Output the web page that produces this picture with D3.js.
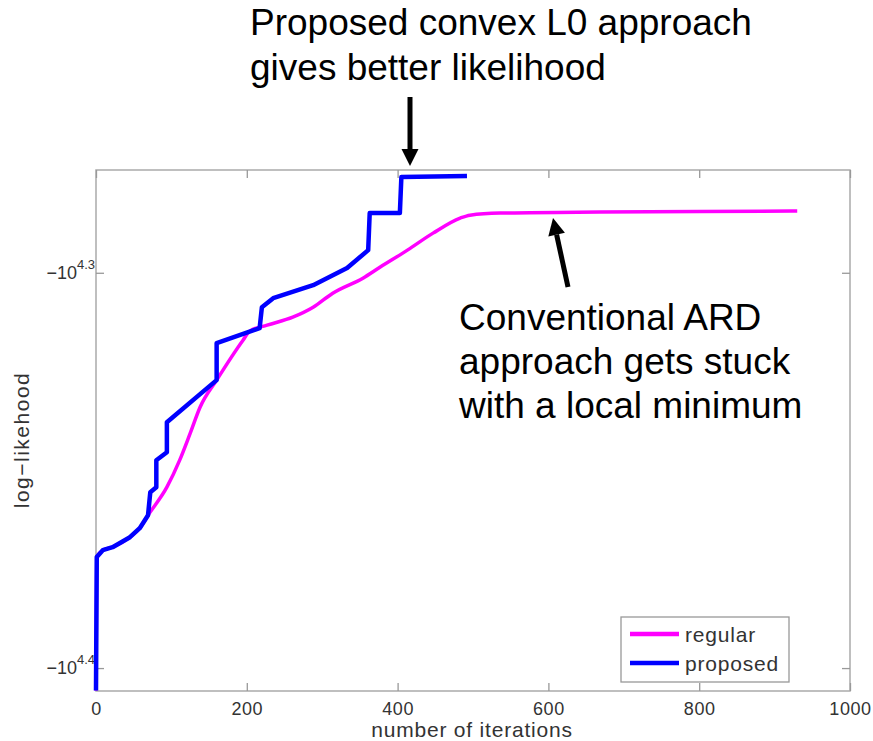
<!DOCTYPE html>
<html lang="en">
<head>
    <meta charset="UTF-8">
    <title>log-likehood vs number of iterations</title>
    <script src="https://cdnjs.cloudflare.com/ajax/libs/d3/7.8.5/d3.min.js"></script>
    <style>
        body {
            margin: 0;
            background-color: #ffffff;
            font-family: "Liberation Sans", Arial, sans-serif;
        }
        .tick text {
            fill: #333;
        }
    </style>
</head>
<body>
    <div id="chart"></div>

    <script>
        // values
        const regularIter = [0, 1, 9, 22, 45, 58, 69, 94, 111, 125, 138, 160, 195, 204, 227, 261, 288, 314, 354, 377, 413, 447, 483, 496, 536, 668, 801, 930];
        const regularLL = [-25450, -23546, -23452, -23411, -23275, -23153, -22979, -22607, -22254, -21907, -21579, -21240, -20752, -20643, -20571, -20475, -20357, -20191, -20015, -19886, -19691, -19497, -19327, -19294, -19271, -19259, -19253, -19248];

        const proposedIter = [0, 1, 9, 22, 45, 58, 69, 72, 80, 80, 94, 94, 160, 160, 217, 220, 235, 288, 333, 361, 363, 403, 405, 492];
        const proposedLL = [-25450, -23546, -23452, -23411, -23275, -23153, -22979, -22673, -22607, -22254, -22151, -21767, -21240, -20788, -20607, -20357, -20250, -20097, -19898, -19691, -19271, -19271, -18871, -18860];

        const xTicks = [0, 200, 400, 600, 800, 1000];
        const yTickExps = [4.3, 4.4];
        const seriesNames = ["regular", "proposed"];
        const seriesColors = ["#ff00ff", "#0000ff"];

        const width = 873;
        const height = 741;
        const plotLeft = 96, plotRight = 850, plotTop = 170, plotBottom = 691;

        const svg = d3.select("#chart")
            .append("svg")
            .attr("width", width)
            .attr("height", height)
            .style("font-family", "'Liberation Sans', Arial, sans-serif");

        const x = d3.scaleLinear().domain([0, 1000]).range([plotLeft, plotRight]);
        // y axis is logarithmic on the magnitude of a negative quantity
        const y = d3.scaleLog()
            .domain([-Math.pow(10, 4.4058), -Math.pow(10, 4.274)])
            .range([plotBottom, plotTop]);

        const yTickVals = yTickExps.map(e => -Math.pow(10, e));

        // box
        svg.append("rect")
            .attr("x", plotLeft).attr("y", plotTop)
            .attr("width", plotRight - plotLeft).attr("height", plotBottom - plotTop)
            .attr("fill", "white")
            .attr("stroke", "#aaa")
            .attr("stroke-width", 1.5);

        function styleAxis(g) {
            g.select(".domain").remove();
            g.selectAll(".tick line").attr("stroke", "#999").attr("stroke-width", 1.3);
        }

        svg.append("g")
            .attr("transform", `translate(0,${plotBottom})`)
            .call(d3.axisBottom(x).tickValues(xTicks).tickFormat(d3.format("d"))
                .tickSizeInner(-8).tickSizeOuter(0).tickPadding(11))
            .call(styleAxis)
            .call(g => g.selectAll("text")
                .attr("font-size", 18)
                .style("letter-spacing", "0.6px"));

        svg.append("g")
            .attr("transform", `translate(0,${plotTop})`)
            .call(d3.axisTop(x).tickValues(xTicks).tickSizeInner(-8).tickSizeOuter(0).tickFormat(""))
            .call(styleAxis);

        svg.append("g")
            .attr("transform", `translate(${plotRight},0)`)
            .call(d3.axisRight(y).tickValues(yTickVals).tickSizeInner(-8).tickSizeOuter(0).tickFormat(""))
            .call(styleAxis);

        const yAxis = svg.append("g")
            .attr("transform", `translate(${plotLeft},0)`)
            .call(d3.axisLeft(y).tickValues(yTickVals).tickSizeInner(-8).tickSizeOuter(0).tickPadding(1).tickFormat(""))
            .call(styleAxis);

        yAxis.selectAll(".tick text")
            .attr("font-size", 18)
            .each(function(d, i) {
                const t = d3.select(this);
                t.append("tspan").text("\u221210");
                t.append("tspan")
                    .attr("font-size", 13)
                    .attr("dy", -10)
                    .text(yTickExps[i]);
            });

        // axis labels
        svg.append("text")
            .attr("x", (plotLeft + plotRight) / 2 - 1)
            .attr("y", 737)
            .attr("text-anchor", "middle")
            .attr("font-size", 21)
            .style("letter-spacing", "0.8px")
            .attr("fill", "#333")
            .text("number of iterations");

        svg.append("text")
            .attr("transform", "translate(29,440) rotate(-90)")
            .attr("text-anchor", "middle")
            .attr("font-size", 21)
            .style("letter-spacing", "1.5px")
            .attr("fill", "#333")
            .text("log\u2212likehood");

        // curves
        const line = d3.line()
            .x(d => x(d[0]))
            .y(d => y(d[1]));

        const regular = regularIter.map((v, i) => [v, regularLL[i]]);
        const proposed = proposedIter.map((v, i) => [v, proposedLL[i]]);

        svg.append("path")
            .datum(regular)
            .attr("d", line.curve(d3.curveMonotoneX))
            .attr("fill", "none")
            .attr("stroke", seriesColors[0])
            .attr("stroke-width", 3.5)
            .attr("stroke-linejoin", "round");

        svg.append("path")
            .datum(proposed)
            .attr("d", line.curve(d3.curveLinear))
            .attr("fill", "none")
            .attr("stroke", seriesColors[1])
            .attr("stroke-width", 4.5)
            .attr("stroke-linejoin", "round");

        // legend
        const legend = svg.append("g").attr("transform", "translate(621,617)");
        legend.append("rect")
            .attr("width", 168).attr("height", 65)
            .attr("fill", "white")
            .attr("stroke", "#999")
            .attr("stroke-width", 1.3);

        seriesNames.forEach((name, i) => {
            legend.append("line")
                .attr("x1", 9).attr("x2", 58)
                .attr("y1", 17 + i * 29).attr("y2", 17 + i * 29)
                .attr("stroke", seriesColors[i])
                .attr("stroke-width", 4.5);
            legend.append("text")
                .attr("x", 64)
                .attr("y", 25 + i * 29)
                .attr("font-size", 21)
                .style("letter-spacing", "0.8px")
                .attr("fill", "#333")
                .text(name);
        });

        // annotations
        const note1 = svg.append("text")
            .attr("font-size", 37)
            .attr("fill", "black");
        note1.append("tspan").attr("x", 250).attr("y", 35).text("Proposed convex L0 approach");
        note1.append("tspan").attr("x", 250).attr("y", 80).text("gives better likelihood");

        const note2 = svg.append("text")
            .attr("font-size", 37)
            .attr("fill", "black");
        ["Conventional ARD", "approach gets stuck", "with a local minimum"].forEach((s, i) => {
            note2.append("tspan").attr("x", 459).attr("y", 330 + i * 44).text(s);
        });

        function arrow(x0, y0, x1, y1) {
            const dx = x1 - x0, dy = y1 - y0;
            const len = Math.sqrt(dx * dx + dy * dy);
            const ux = dx / len, uy = dy / len;
            const headLen = 17, headW = 8.5;
            const bx = x1 - ux * headLen, by = y1 - uy * headLen;
            svg.append("line")
                .attr("x1", x0).attr("y1", y0)
                .attr("x2", bx).attr("y2", by)
                .attr("stroke", "black")
                .attr("stroke-width", 5);
            svg.append("path")
                .attr("d", `M${x1},${y1}L${bx - uy * headW},${by + ux * headW}L${bx + uy * headW},${by - ux * headW}Z`)
                .attr("fill", "black");
        }
        arrow(410, 97, 410, 166);
        arrow(568, 287, 553, 218);
    </script>
</body>
</html>
